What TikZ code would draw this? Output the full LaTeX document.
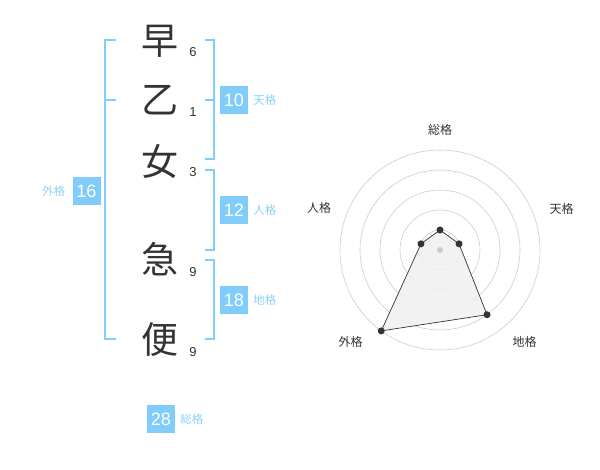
\documentclass[tikz,border=0pt]{standalone}
\usepackage{fontspec}
\setmainfont{Liberation Sans}
\newfontfamily\jpfont{Noto Sans CJK JP}
\usetikzlibrary{positioning, calc}
\definecolor{kakublue}{HTML}{80CCFA}
\definecolor{kakulabel}{HTML}{8ED0F6}
\definecolor{kakutext}{HTML}{333333}
\definecolor{ringgray}{HTML}{CCCCCC}
\definecolor{areagray}{HTML}{F0F0F0}

\begin{document}
\begin{tikzpicture}[
  x=1pt, y=-1pt,
  kanji/.style={font=\jpfont\fontsize{37}{37}\selectfont, text=kakutext, inner sep=0pt},
  strokes/.style={font=\fontsize{13}{13}\selectfont, text=kakutext, inner sep=0pt},
  kakubox/.style={fill=kakublue, text=white, minimum size=28pt, inner sep=0pt, font=\fontsize{18}{18}\selectfont},
  kakuname/.style={font=\jpfont\fontsize{11.5}{11.5}\selectfont, text=kakulabel, inner sep=0pt},
  bracket/.style={draw=kakublue, line width=2pt},
  ring/.style={draw=ringgray, line width=0.6pt},
  axisname/.style={font=\jpfont\fontsize{12}{12}\selectfont, text=kakutext, inner sep=0pt},
  dot/.style={circle, fill=kakutext, inner sep=0pt, minimum size=7pt}
]
\useasboundingbox (0,0) rectangle (600,470);

% name characters and stroke counts
\node[kanji] (c1) at (160,41) {早};
\node[kanji] (c2) at (160,100) {乙};
\node[kanji] (c3) at (160,162) {女};
\node[kanji] (c4) at (160,259) {急};
\node[kanji] (c5) at (160,340) {便};
\node[strokes] (s1) at (193,52) {6};
\node[strokes] (s2) at (193,112) {1};
\node[strokes] (s3) at (193,172) {3};
\node[strokes] (s4) at (193,272) {9};
\node[strokes] (s5) at (193,352) {9};

% brackets
\draw[bracket] (116,40) -| (105,339) -- (116,339);
\draw[bracket] (105,100) -- (116,100);
\draw[bracket] (205,40) -| (214,159) -- (205,159);
\draw[bracket] (205,100) -- (214,100);
\draw[bracket] (205,170) -| (214,250) -- (205,250);
\draw[bracket] (205,260) -| (214,339) -- (205,339);

% fortune boxes
\node[kakubox] (ten) at (234,100) {10};
\node[kakuname, right=5pt of ten] (tenname) {天格};
\node[kakubox] (jin) at (234,210) {12};
\node[kakuname, right=5pt of jin] (jinname) {人格};
\node[kakubox] (chi) at (234,300) {18};
\node[kakuname, right=5pt of chi] (chiname) {地格};
\node[kakubox] (gai) at (86.5,191) {16};
\node[kakuname, left=7pt of gai] (gainame) {外格};
\node[kakubox] (sou) at (161,419) {28};
\node[kakuname, right=5pt of sou] (souname) {総格};

% radar chart
\begin{scope}[shift={(440,250)}, y=1pt]
  \foreach \r in {20,40,...,100}
    \draw[ring] (0,0) circle (\r);
  \coordinate (psou) at (90:20);
  \coordinate (pten) at (18:20);
  \coordinate (pchi) at (-54:80);
  \coordinate (pgai) at (-126:100);
  \coordinate (pjin) at (162:20);
  \draw[fill=areagray, fill opacity=0.85, draw=kakutext, line width=0.7pt]
    (psou) -- (pten) -- (pchi) -- (pgai) -- (pjin) -- cycle;
  \fill[ringgray] (0,0) circle (3);
  \foreach \p in {psou,pten,pchi,pgai,pjin}
    \node[dot] at (\p) {};
\end{scope}
\node[axisname] (asou) at (440,130) {総格};
\node[axisname] (aten) at (561.5,209) {天格};
\node[axisname] (achi) at (524.5,342) {地格};
\node[axisname] (agai) at (350.5,342) {外格};
\node[axisname] (ajin) at (319,208) {人格};
\end{tikzpicture}
\end{document}
